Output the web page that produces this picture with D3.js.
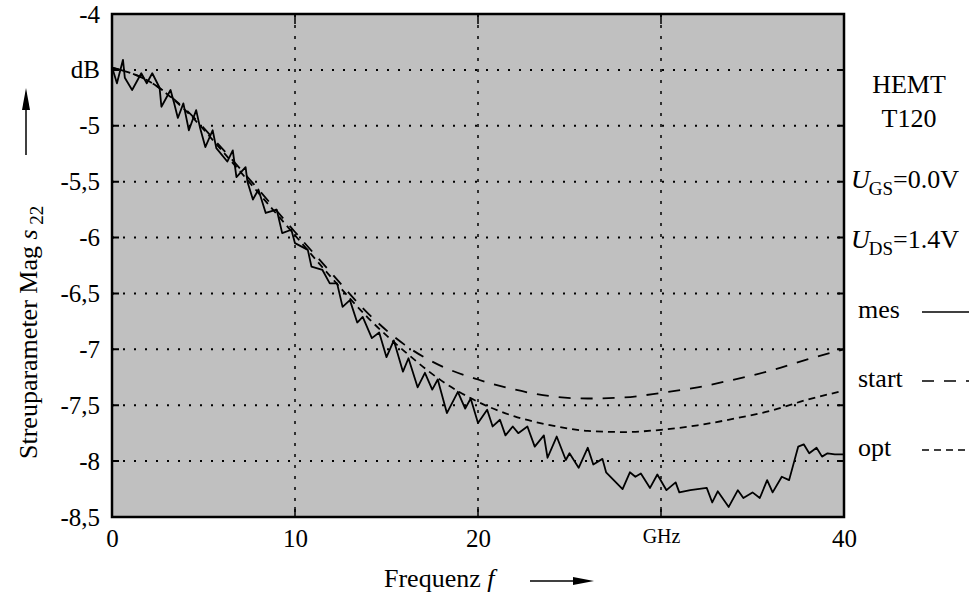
<!DOCTYPE html>
<html>
<head>
<meta charset="utf-8">
<script src="https://cdn.jsdelivr.net/npm/d3@7"></script>
<style>
  body { margin: 0; background: #fff; }
  text { font-family: "Liberation Serif", "DejaVu Serif", serif; fill: #000; }
</style>
</head>
<body>
<div id="chart"></div>
<script>

// measured curve (frequency in GHz, magnitude in dB)
var mesFreq = [0, 0.05, 0.27, 0.6, 0.7, 1.1, 1.6, 1.9, 2.2, 2.6, 2.7, 3.2, 3.4, 3.6, 3.9, 4.2, 4.6, 4.8, 5.1, 5.5,
    5.7, 6.3, 6.6, 6.8, 7.3, 7.4, 7.7, 8.0, 8.4, 9.0, 9.3, 9.8, 10.0, 10.7, 10.9, 11.5, 11.9, 12.3, 12.6, 13.0,
    13.4, 13.7, 14.2, 14.6, 15.0, 15.4, 15.9, 16.2, 16.7, 17.1, 17.5, 17.8, 18.3, 18.9, 19.3, 19.6, 20.0, 20.5, 20.8, 21.2,
    21.5, 21.9, 22.2, 22.7, 23.1, 23.6, 23.8, 24.3, 24.8, 25.0, 25.5, 26.0, 26.3, 26.8, 27.0, 27.9, 28.3, 28.6, 28.9, 29.4,
    29.8, 30.3, 30.8, 31.0, 31.6, 32.5, 32.8, 33.1, 33.7, 34.2, 34.5, 35.0, 35.4, 35.8, 36.1, 36.6, 37.0, 37.5, 37.8, 38.1,
    38.5, 38.8, 39.1, 39.5, 40.0];
var mesValues = [-4.47, -4.5, -4.62, -4.41, -4.57, -4.68, -4.53, -4.62, -4.53, -4.66, -4.83, -4.68, -4.8, -4.93, -4.8, -5.04, -4.86, -5.01, -5.19, -5.04,
    -5.2, -5.32, -5.22, -5.46, -5.37, -5.5, -5.66, -5.57, -5.78, -5.75, -5.96, -5.93, -6.05, -6.11, -6.26, -6.29, -6.41, -6.41, -6.62, -6.56,
    -6.76, -6.71, -6.9, -6.85, -7.07, -6.92, -7.2, -7.08, -7.34, -7.21, -7.36, -7.27, -7.57, -7.38, -7.53, -7.44, -7.66, -7.54, -7.69, -7.63,
    -7.77, -7.69, -7.75, -7.69, -7.87, -7.77, -7.97, -7.78, -7.99, -7.93, -8.06, -7.88, -8.03, -7.98, -8.1, -8.25, -8.1, -8.14, -8.11, -8.24,
    -8.12, -8.26, -8.19, -8.28, -8.26, -8.24, -8.37, -8.27, -8.41, -8.26, -8.33, -8.28, -8.33, -8.17, -8.28, -8.14, -8.17, -7.87, -7.85, -7.93,
    -7.88, -7.96, -7.93, -7.94, -7.94];

// model curves, start values and optimised values
var modelFreq = [0, 2, 4, 6, 8, 10, 12, 14, 16, 18, 20, 22, 24, 26, 28, 30, 32, 34, 36, 38, 40];
var startValues = [-4.48, -4.6, -4.85, -5.2, -5.57, -5.95, -6.32, -6.68, -6.96, -7.15, -7.27, -7.36, -7.42, -7.44, -7.43, -7.39, -7.34, -7.27, -7.19, -7.09, -7.0];
var optValues = [-4.48, -4.6, -4.86, -5.22, -5.6, -5.98, -6.36, -6.72, -7.02, -7.28, -7.47, -7.6, -7.68, -7.73, -7.74, -7.72, -7.68, -7.62, -7.55, -7.45, -7.37];

// ticks
var xTicks = [0, 10, 20, 30, 40];
var xTickLabels = ["0", "10", "20", "GHz", "40"];
var yTicks = [-4, -4.5, -5, -5.5, -6, -6.5, -7, -7.5, -8, -8.5];
var yTickLabels = ["-4", "dB", "-5", "-5,5", "-6", "-6,5", "-7", "-7,5", "-8", "-8,5"];

// legend
var legendNames = ["mes", "start", "opt"];
var legendDash = [null, "12,10", "7,5"];

var svgWidth = 969;
var svgHeight = 596;

var svg = d3.select("#chart")
    .append("svg")
    .attr("width", svgWidth)
    .attr("height", svgHeight);

// plot area
var plot = { left: 112, top: 14, right: 844, bottom: 517 };

var xScale = d3.scaleLinear()
    .domain([0, 40])
    .range([plot.left, plot.right]);

var yScale = d3.scaleLinear()
    .domain([-8.5, -4])
    .range([plot.bottom, plot.top]);

// grey background
svg.append("rect")
    .attr("x", plot.left)
    .attr("y", plot.top)
    .attr("width", plot.right - plot.left)
    .attr("height", plot.bottom - plot.top)
    .attr("fill", "#c0c0c0");

// dotted grid
svg.append("g")
    .selectAll("line")
    .data(yTicks.slice(1, -1))
    .enter()
    .append("line")
    .attr("x1", plot.left)
    .attr("x2", plot.right)
    .attr("y1", d => yScale(d))
    .attr("y2", d => yScale(d))
    .attr("stroke", "#000")
    .attr("stroke-width", 2)
    .attr("stroke-dasharray", "2,9");

svg.append("g")
    .selectAll("line")
    .data(xTicks.slice(1, -1))
    .enter()
    .append("line")
    .attr("x1", d => xScale(d))
    .attr("x2", d => xScale(d))
    .attr("y1", plot.top)
    .attr("y2", plot.bottom)
    .attr("stroke", "#000")
    .attr("stroke-width", 1.5)
    .attr("stroke-dasharray", "3,8");

// small ticks on the frame
var tickLen = 7;
svg.append("g")
    .selectAll("path")
    .data(yTicks.slice(1, -1))
    .enter()
    .append("path")
    .attr("d", d => `M${plot.left},${yScale(d)}h${tickLen}M${plot.right},${yScale(d)}h${-tickLen}`)
    .attr("stroke", "#000")
    .attr("stroke-width", 2);

svg.append("g")
    .selectAll("path")
    .data(xTicks.slice(1, -1))
    .enter()
    .append("path")
    .attr("d", d => `M${xScale(d)},${plot.bottom}v${-tickLen - 3}M${xScale(d)},${plot.top}v${tickLen + 3}`)
    .attr("stroke", "#000")
    .attr("stroke-width", 1.5);

// curves
var mesData = mesFreq.map((f, i) => ({ f: f, v: mesValues[i] }));
var startData = modelFreq.map((f, i) => ({ f: f, v: startValues[i] }));
var optData = modelFreq.map((f, i) => ({ f: f, v: optValues[i] }));

var line = d3.line()
    .x(d => xScale(d.f))
    .y(d => yScale(d.v));

var smoothLine = d3.line()
    .x(d => xScale(d.f))
    .y(d => yScale(d.v))
    .curve(d3.curveMonotoneX);

svg.append("path")
    .datum(startData)
    .attr("d", smoothLine)
    .attr("fill", "none")
    .attr("stroke", "#000")
    .attr("stroke-width", 1.8)
    .attr("stroke-dasharray", legendDash[1]);

svg.append("path")
    .datum(optData)
    .attr("d", smoothLine)
    .attr("fill", "none")
    .attr("stroke", "#000")
    .attr("stroke-width", 1.8)
    .attr("stroke-dasharray", legendDash[2]);

svg.append("path")
    .datum(mesData)
    .attr("d", line)
    .attr("fill", "none")
    .attr("stroke", "#000")
    .attr("stroke-width", 1.8)
    .attr("stroke-linejoin", "round");

// frame
svg.append("rect")
    .attr("x", plot.left)
    .attr("y", plot.top)
    .attr("width", plot.right - plot.left)
    .attr("height", plot.bottom - plot.top)
    .attr("fill", "none")
    .attr("stroke", "#000")
    .attr("stroke-width", 2.5);

// axes labels
var yAxis = d3.axisLeft(yScale)
    .tickValues(yTicks)
    .tickFormat((d, i) => yTickLabels[i])
    .tickSize(0)
    .tickPadding(12);

var yAxisGroup = svg.append("g")
    .attr("transform", `translate(${plot.left}, 0)`)
    .call(yAxis);
yAxisGroup.select(".domain").remove();
yAxisGroup.attr("font-family", null).attr("font-size", 25);

var xAxis = d3.axisBottom(xScale)
    .tickValues(xTicks)
    .tickFormat((d, i) => xTickLabels[i])
    .tickSize(0)
    .tickPadding(12);

var xAxisGroup = svg.append("g")
    .attr("transform", `translate(0, ${plot.bottom})`)
    .call(xAxis);
xAxisGroup.select(".domain").remove();
xAxisGroup.attr("font-family", null).attr("font-size", 25);
xAxisGroup.selectAll("text")
    .filter((d, i) => xTickLabels[i] == "GHz")
    .attr("font-size", 20);

// axis titles
var xTitle = svg.append("text")
    .attr("x", 384)
    .attr("y", 587)
    .attr("font-size", 26);
xTitle.append("tspan").text("Frequenz ");
xTitle.append("tspan").attr("font-style", "italic").text("f");

var yTitle = svg.append("text")
    .attr("transform", "translate(37, 459) rotate(-90)")
    .attr("font-size", 26);
yTitle.append("tspan").text("Streuparameter Mag  ");
yTitle.append("tspan").attr("font-style", "italic").text("s");
yTitle.append("tspan").attr("font-size", 19).attr("dy", 6).text(" 22");

// arrows
svg.append("line")
    .attr("x1", 530).attr("x2", 580)
    .attr("y1", 581).attr("y2", 581)
    .attr("stroke", "#000").attr("stroke-width", 1.5);
svg.append("path")
    .attr("d", "M594,581L573,577L573,585Z")
    .attr("fill", "#000");

svg.append("line")
    .attr("x1", 26).attr("x2", 26)
    .attr("y1", 155).attr("y2", 100)
    .attr("stroke", "#000").attr("stroke-width", 1.5);
svg.append("path")
    .attr("d", "M26,88L22,110L30,110Z")
    .attr("fill", "#000");

// device info
svg.append("text")
    .attr("x", 909).attr("y", 93)
    .attr("text-anchor", "middle")
    .attr("font-size", 26)
    .text("HEMT");
svg.append("text")
    .attr("x", 909).attr("y", 127)
    .attr("text-anchor", "middle")
    .attr("font-size", 26)
    .text("T120");

var biasNames = ["GS", "DS"];
var biasValues = ["=0.0V", "=1.4V"];
biasNames.forEach((name, i) => {
    var t = svg.append("text")
        .attr("x", 851)
        .attr("y", 188 + i * 60)
        .attr("font-size", 26);
    t.append("tspan").attr("font-style", "italic").text("U");
    t.append("tspan").attr("font-size", 19).attr("dy", 7).attr("dx", -1).text(name);
    t.append("tspan").attr("dy", -7).text(biasValues[i]);
});

// legend
legendNames.forEach((name, i) => {
    var y = 318 + i * 69;
    svg.append("text")
        .attr("x", 858)
        .attr("y", y)
        .attr("font-size", 26)
        .text(name);
    svg.append("line")
        .attr("x1", 922).attr("x2", 969)
        .attr("y1", y - 6).attr("y2", y - 6)
        .attr("stroke", "#000")
        .attr("stroke-width", 1.5)
        .attr("stroke-dasharray", legendDash[i]);
});

</script>
</body>
</html>
